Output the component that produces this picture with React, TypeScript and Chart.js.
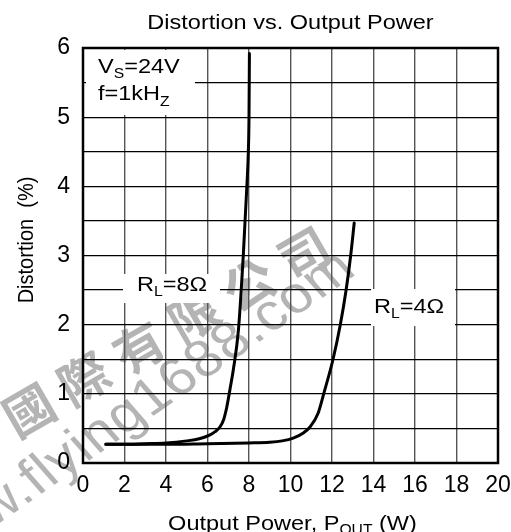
import React, { useEffect, useRef } from 'react';
import { Chart, registerables } from 'chart.js';

Chart.register(...registerables);

// ---- data ----
const powerRL8 = [1.1, 2, 3, 4, 5, 5.6, 6.07, 6.35, 6.6, 6.78, 6.93, 7.08, 7.24, 7.49, 7.73, 7.9, 7.97, 8.0, 8.02];
const distRL8 = [0.27, 0.27, 0.28, 0.29, 0.32, 0.35, 0.4, 0.45, 0.52, 0.63, 0.81, 1.06, 1.34, 1.92, 3.03, 4.02, 4.52, 5.0, 5.92];
const powerRL4 = [1.1, 4, 6, 8, 9, 9.6, 10.13, 10.6, 10.94, 11.33, 11.6, 12.05, 12.4, 12.68, 12.9, 13.07];
const distRL4 = [0.27, 0.27, 0.28, 0.29, 0.3, 0.32, 0.36, 0.43, 0.52, 0.72, 1.0, 1.5, 2.0, 2.5, 3.0, 3.47];

const xMin = 0;
const xMax = 20;
const xStep = 2;
const yMin = 0;
const yMax = 6;
const yGridStep = 0.5;

const chartTitle = 'Distortion vs. Output Power';
const yTitle = 'Distortion  (%)';
const xTitleParts = [
  { t: 'Output Power, P' },
  { t: 'OUT', sub: true },
  { t: ' (W)' },
];
const condLine1 = [{ t: 'V' }, { t: 'S', sub: true }, { t: '=24V' }];
const condLine2 = [{ t: 'f=1kH' }, { t: 'Z', sub: true }];
const label8 = [{ t: 'R' }, { t: 'L', sub: true }, { t: '=8Ω' }];
const label4 = [{ t: 'R' }, { t: 'L', sub: true }, { t: '=4Ω' }];
const watermarkCN = '國際有限公司';
const watermarkEN = ['www.flying1688', '.', 'com'];

const FONT = '"Liberation Sans", Arial, Helvetica, sans-serif';
const SX = 1.12;

type Part = { t: string; sub?: boolean };

function drawRich(
  ctx: CanvasRenderingContext2D,
  parts: Part[],
  x: number,
  y: number,
  size: number,
  subSize: number,
  subDy: number,
  align: 'left' | 'center'
) {
  ctx.save();
  ctx.translate(x, y);
  ctx.scale(SX, 1);
  ctx.textAlign = 'left';
  ctx.textBaseline = 'alphabetic';
  ctx.fillStyle = '#000';
  let total = 0;
  for (const p of parts) {
    ctx.font = `${p.sub ? subSize : size}px ${FONT}`;
    total += ctx.measureText(p.t).width;
  }
  let cx = align === 'center' ? -total / 2 : 0;
  for (const p of parts) {
    ctx.font = `${p.sub ? subSize : size}px ${FONT}`;
    ctx.fillText(p.t, cx, p.sub ? subDy : 0);
    cx += ctx.measureText(p.t).width;
  }
  ctx.restore();
}

export default function App() {
  const ref = useRef<HTMLCanvasElement | null>(null);

  useEffect(() => {
    document.body.style.margin = '0';
    const canvas = ref.current;
    if (!canvas) return;

    const decor = {
      id: 'decor',
      beforeDraw(chart: any) {
        const ctx: CanvasRenderingContext2D = chart.ctx;
        ctx.save();
        ctx.fillStyle = '#fff';
        ctx.fillRect(0, 0, chart.width, chart.height);
        // watermark (Chinese)
        ctx.fillStyle = '#b4b4b4';
        ctx.font = `bold 50px "Noto Sans CJK TC", "Noto Sans CJK SC", sans-serif`;
        ctx.textAlign = 'center';
        ctx.textBaseline = 'middle';
        const chars = Array.from(watermarkCN);
        chars.forEach((c, i) => {
          ctx.save();
          ctx.translate(29 + i * 55, 410 - i * 31.4);
          ctx.rotate((-30 * Math.PI) / 180);
          ctx.fillText(c, 0, 0);
          ctx.restore();
        });
        // watermark (web address)
        const F = 52;
        ctx.save();
        ctx.translate(262, 340);
        ctx.scale(SX, 1);
        ctx.rotate((-38 * Math.PI) / 180);
        ctx.font = `${F}px ${FONT}`;
        (ctx as any).letterSpacing = '1px';
        ctx.textBaseline = 'alphabetic';
        ctx.textAlign = 'right';
        ctx.fillText(watermarkEN[0], -0.139 * F, 0);
        ctx.textAlign = 'center';
        ctx.fillText(watermarkEN[1], 0, 0);
        ctx.textAlign = 'left';
        ctx.fillText(watermarkEN[2], 0.139 * F + 1, 0);
        ctx.restore();
        ctx.restore();
      },
      beforeDatasetsDraw(chart: any) {
        const ctx: CanvasRenderingContext2D = chart.ctx;
        const a = chart.chartArea;
        ctx.save();
        // white label boxes
        ctx.fillStyle = '#fff';
        ctx.fillRect(a.left + 3, a.top + 2, 109, 65);
        ctx.fillRect(123, 274, 97, 29);
        ctx.fillRect(371, 289, 84, 37);
        ctx.restore();
        drawRich(ctx, condLine1, 98, 73, 21, 14, 5, 'left');
        drawRich(ctx, condLine2, 98, 100, 21, 14, 6, 'left');
        drawRich(ctx, label8, 137, 291, 21, 14, 5, 'left');
        drawRich(ctx, label4, 374, 313, 21, 14, 5, 'left');
      },
      afterDatasetsDraw(chart: any) {
        const ctx: CanvasRenderingContext2D = chart.ctx;
        const a = chart.chartArea;
        ctx.save();
        ctx.strokeStyle = '#000';
        ctx.lineWidth = 2.5;
        ctx.strokeRect(a.left, a.top, a.right - a.left, a.bottom - a.top);
        ctx.restore();
      },
      afterDraw(chart: any) {
        const ctx: CanvasRenderingContext2D = chart.ctx;
        const a = chart.chartArea;
        const cx = (a.left + a.right) / 2;
        drawRich(ctx, [{ t: chartTitle }], cx, 29, 21, 14, 5, 'center');
        drawRich(ctx, xTitleParts, cx + 2, 530, 21, 14, 4, 'center');
        ctx.save();
        ctx.translate(33, 240);
        ctx.rotate(-Math.PI / 2);
        ctx.scale(1, SX);
        ctx.font = `20px ${FONT}`;
        ctx.fillStyle = '#000';
        ctx.textAlign = 'center';
        ctx.textBaseline = 'alphabetic';
        ctx.fillText(yTitle, 0, 0);
        ctx.restore();
      },
    };

    const chart = new Chart(canvas, {
      type: 'scatter',
      data: {
        datasets: [
          {
            label: 'RL=8Ω',
            data: powerRL8.map((x, i) => ({ x, y: distRL8[i] })),
            showLine: true,
            borderColor: '#000',
            borderWidth: 3,
            pointRadius: 0,
            cubicInterpolationMode: 'monotone',
            borderCapStyle: 'round',
            borderJoinStyle: 'round',
          },
          {
            label: 'RL=4Ω',
            data: powerRL4.map((x, i) => ({ x, y: distRL4[i] })),
            showLine: true,
            borderColor: '#000',
            borderWidth: 3,
            pointRadius: 0,
            cubicInterpolationMode: 'monotone',
            borderCapStyle: 'round',
            borderJoinStyle: 'round',
          },
        ],
      },
      options: {
        animation: false,
        responsive: true,
        maintainAspectRatio: false,
        events: [],
        layout: { padding: { left: 0, right: 13, top: 48, bottom: 0 } },
        plugins: {
          legend: { display: false },
          tooltip: { enabled: false },
          title: { display: false },
        },
        scales: {
          x: {
            type: 'linear',
            min: xMin,
            max: xMax,
            afterFit(scale: any) {
              scale.height = 69;
            },
            ticks: {
              stepSize: xStep,
              autoSkip: false,
              maxRotation: 0,
              padding: 0,
              color: '#000',
              font: { family: FONT, size: 23 },
            },
            grid: {
              color: '#555',
              lineWidth: 1.4,
              drawTicks: true,
              tickLength: 9,
              tickColor: 'rgba(0,0,0,0)',
            },
            border: { display: false },
          },
          y: {
            type: 'linear',
            min: yMin,
            max: yMax,
            afterFit(scale: any) {
              scale.width = 83;
            },
            ticks: {
              stepSize: yGridStep,
              autoSkip: false,
              padding: 13,
              color: '#000',
              font: { family: FONT, size: 23 },
              callback: (v: any) => (Number.isInteger(v) ? String(v) : ''),
            },
            grid: { color: '#000', lineWidth: 1.3, drawTicks: false },
            border: { display: false },
          },
        },
      } as any,
      plugins: [decor],
    });

    return () => chart.destroy();
  }, []);

  return (
    <div style={{ position: 'absolute', left: 0, top: 0, width: 511, height: 532, background: '#fff' }}>
      <canvas ref={ref} />
    </div>
  );
}
